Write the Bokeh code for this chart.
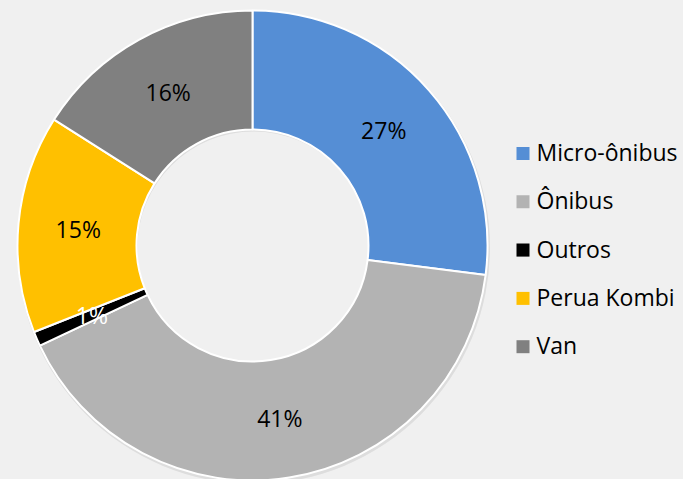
import numpy as np
from bokeh.plotting import figure
from bokeh.models import ColumnDataSource, Range1d
from bokeh.core.properties import value
from bokeh.embed import file_html
from bokeh.resources import INLINE

categories = ["Micro-ônibus", "Ônibus", "Outros", "Perua Kombi", "Van"]
shares = [27, 41, 1, 15, 16]
colors = ["#558ed5", "#b3b3b3", "#000000", "#ffc000", "#808080"]
label_colors = ["#000000", "#000000", "#ffffff", "#000000", "#000000"]

W, H = 683, 479
BG = "#f0f0f0"
cx, cy = 252, 234
r_out, r_in = 235, 116
r_lab = 175

vals = np.array(shares, dtype=float)
frac = vals / vals.sum()
cum = np.concatenate([[0], np.cumsum(frac)])
start = np.pi / 2 - cum[:-1] * 2 * np.pi
end = np.pi / 2 - cum[1:] * 2 * np.pi
mid = (start + end) / 2

src = ColumnDataSource(dict(
    cat=categories, start=start, end=end, color=colors,
    lx=cx + r_lab * np.cos(mid), ly=cy + r_lab * np.sin(mid),
    lab=[f"{v}%" for v in shares], lcol=label_colors,
))

p = figure(width=W, height=H, output_backend="svg", toolbar_location=None,
           x_range=Range1d(0, W), y_range=Range1d(0, H), min_border=0)
p.axis.visible = False
p.grid.visible = False
p.outline_line_color = None
p.background_fill_color = BG
p.border_fill_color = BG

# faint shadow
p.annular_wedge(x=cx + 1, y=cy - 2, inner_radius=r_in, outer_radius=r_out + 1.5,
                start_angle=0, end_angle=2 * np.pi, fill_color="#000000",
                fill_alpha=0.08, line_color=None)

p.annular_wedge(x=cx, y=cy, inner_radius=r_in, outer_radius=r_out,
                start_angle="start", end_angle="end", direction="clock",
                fill_color="color", line_color="white", line_width=2, source=src)

p.text(x="lx", y="ly", text="lab", text_color="lcol", source=src,
       text_font=value("Open Sans"), text_font_size="23px",
       text_align="center", text_baseline="middle")

# legend
n = len(categories)
leg = ColumnDataSource(dict(
    x=[522.5] * n, tx=[536] * n,
    y=[H - (153 + 48.3 * i) for i in range(n)],
    cat=categories, color=colors,
))
p.rect(x="x", y="y", width=13, height=13, fill_color="color", line_color=None, source=leg)
p.text(x="tx", y="ly", text="cat", source=ColumnDataSource(dict(
    tx=leg.data["tx"], ly=[v + 1.5 for v in leg.data["y"]], cat=categories)),
       text_color="#000000",
       text_font=value("Open Sans"), text_font_size="23px",
       text_align="left", text_baseline="middle")

html = file_html(p, INLINE)
html = html.replace("<head>", "<head><style>body{background:#f0f0f0;}</style>", 1)
open("out.html", "w").write(html)
